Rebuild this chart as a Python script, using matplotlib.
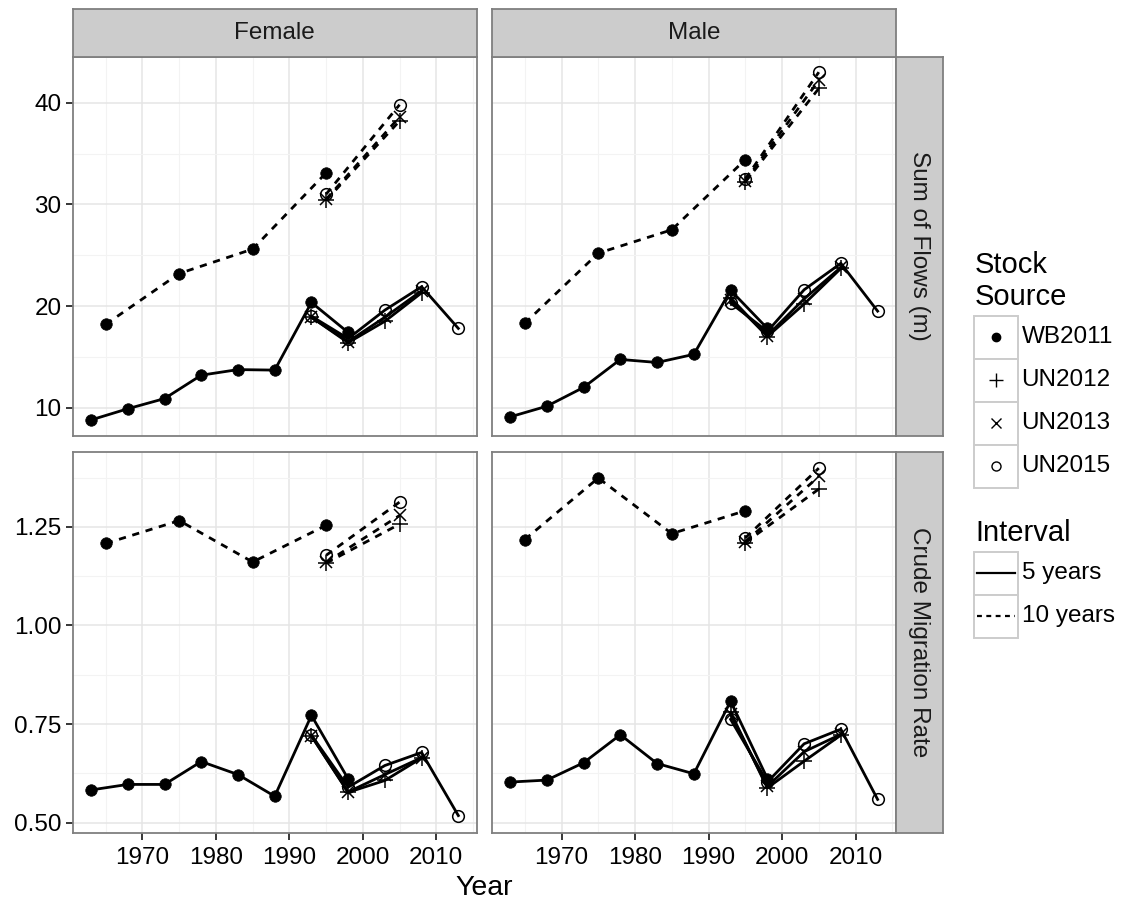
import matplotlib
matplotlib.use("Agg")
import matplotlib.pyplot as plt
from matplotlib.patches import Rectangle

plt.rcParams['font.family'] = ['Liberation Sans', 'DejaVu Sans']

# ---------------- data ----------------
panels_sex = ["Female", "Male"]
panels_measure = ["Sum of Flows (m)", "Crude Migration Rate"]
sources = ["WB2011", "UN2012", "UN2013", "UN2015"]
intervals = ["5 years", "10 years"]

wb_years_5 = [1963, 1968, 1973, 1978, 1983, 1988, 1993, 1998]
un_years_5 = [1993, 1998, 2003, 2008]
un15_years_5 = [1993, 1998, 2003, 2008, 2013]
wb_years_10 = [1965, 1975, 1985, 1995]
un_years_10 = [1995, 2005]

# Female, Sum of Flows
f_flow_wb5 = [8.8, 9.9, 10.9, 13.2, 13.75, 13.7, 20.35, 17.4]
f_flow_un12_5 = [18.9, 16.4, 18.5, 21.3]
f_flow_un13_5 = [18.9, 16.5, 18.9, 21.5]
f_flow_un15_5 = [19.0, 16.8, 19.6, 21.9, 17.8]
f_flow_wb10 = [18.2, 23.2, 25.6, 33.1]
f_flow_un12_10 = [30.4, 38.2]
f_flow_un13_10 = [30.5, 38.6]
f_flow_un15_10 = [31.0, 39.8]

# Male, Sum of Flows
m_flow_wb5 = [9.1, 10.15, 12.0, 14.75, 14.45, 15.25, 21.55, 17.8]
m_flow_un12_5 = [20.8, 17.0, 20.2, 23.7]
m_flow_un13_5 = [20.6, 17.1, 20.7, 23.8]
m_flow_un15_5 = [20.3, 17.5, 21.6, 24.2, 19.5]
m_flow_wb10 = [18.3, 25.2, 27.5, 34.4]
m_flow_un12_10 = [32.2, 41.4]
m_flow_un13_10 = [32.3, 42.2]
m_flow_un15_10 = [32.5, 43.0]

# Female, Crude Migration Rate
f_cmr_wb5 = [0.583, 0.597, 0.597, 0.655, 0.622, 0.567, 0.772, 0.611]
f_cmr_un12_5 = [0.72, 0.577, 0.607, 0.664]
f_cmr_un13_5 = [0.72, 0.578, 0.622, 0.665]
f_cmr_un15_5 = [0.722, 0.59, 0.645, 0.678, 0.518]
f_cmr_wb10 = [1.208, 1.266, 1.161, 1.254]
f_cmr_un12_10 = [1.158, 1.257]
f_cmr_un13_10 = [1.16, 1.279]
f_cmr_un15_10 = [1.178, 1.313]

# Male, Crude Migration Rate
m_cmr_wb5 = [0.603, 0.608, 0.652, 0.723, 0.650, 0.624, 0.808, 0.612]
m_cmr_un12_5 = [0.78, 0.588, 0.656, 0.722]
m_cmr_un13_5 = [0.775, 0.592, 0.68, 0.724]
m_cmr_un15_5 = [0.762, 0.603, 0.70, 0.737, 0.559]
m_cmr_wb10 = [1.218, 1.374, 1.233, 1.291]
m_cmr_un12_10 = [1.21, 1.346]
m_cmr_un13_10 = [1.212, 1.378]
m_cmr_un15_10 = [1.222, 1.399]

x_ticks = [1970, 1980, 1990, 2000, 2010]
flow_ticks = [10, 20, 30, 40]
cmr_ticks = [0.50, 0.75, 1.00, 1.25]
cmr_tick_labels = ["0.50", "0.75", "1.00", "1.25"]

# ---------------- styling ----------------
W, H = 1121, 899
fig = plt.figure(figsize=(W / 100, H / 100), dpi=100)

def rect(x0, y0, x1, y1):
    return [x0 / W, 1 - y1 / H, (x1 - x0) / W, (y1 - y0) / H]

marker_style = {
    "WB2011": dict(marker='o', markersize=8.3, markerfacecolor='black', markeredgecolor='black', markeredgewidth=0.5),
    "UN2012": dict(marker='+', markersize=11, markeredgecolor='black', markeredgewidth=1.1),
    "UN2013": dict(marker='x', markersize=8.3, markeredgecolor='black', markeredgewidth=1.1),
    "UN2015": dict(marker='o', markersize=8.4, markerfacecolor='none', markeredgecolor='black', markeredgewidth=1.1),
}
line_style = {
    "5 years": dict(linestyle='-', linewidth=2.0),
    "10 years": dict(linestyle=(0, (2.6, 2.4)), linewidth=2.0),
}

panel_data = {
    (0, 0): {
        ("WB2011", "5 years"): (wb_years_5, f_flow_wb5),
        ("UN2012", "5 years"): (un_years_5, f_flow_un12_5),
        ("UN2013", "5 years"): (un_years_5, f_flow_un13_5),
        ("UN2015", "5 years"): (un15_years_5, f_flow_un15_5),
        ("WB2011", "10 years"): (wb_years_10, f_flow_wb10),
        ("UN2012", "10 years"): (un_years_10, f_flow_un12_10),
        ("UN2013", "10 years"): (un_years_10, f_flow_un13_10),
        ("UN2015", "10 years"): (un_years_10, f_flow_un15_10),
    },
    (0, 1): {
        ("WB2011", "5 years"): (wb_years_5, m_flow_wb5),
        ("UN2012", "5 years"): (un_years_5, m_flow_un12_5),
        ("UN2013", "5 years"): (un_years_5, m_flow_un13_5),
        ("UN2015", "5 years"): (un15_years_5, m_flow_un15_5),
        ("WB2011", "10 years"): (wb_years_10, m_flow_wb10),
        ("UN2012", "10 years"): (un_years_10, m_flow_un12_10),
        ("UN2013", "10 years"): (un_years_10, m_flow_un13_10),
        ("UN2015", "10 years"): (un_years_10, m_flow_un15_10),
    },
    (1, 0): {
        ("WB2011", "5 years"): (wb_years_5, f_cmr_wb5),
        ("UN2012", "5 years"): (un_years_5, f_cmr_un12_5),
        ("UN2013", "5 years"): (un_years_5, f_cmr_un13_5),
        ("UN2015", "5 years"): (un15_years_5, f_cmr_un15_5),
        ("WB2011", "10 years"): (wb_years_10, f_cmr_wb10),
        ("UN2012", "10 years"): (un_years_10, f_cmr_un12_10),
        ("UN2013", "10 years"): (un_years_10, f_cmr_un13_10),
        ("UN2015", "10 years"): (un_years_10, f_cmr_un15_10),
    },
    (1, 1): {
        ("WB2011", "5 years"): (wb_years_5, m_cmr_wb5),
        ("UN2012", "5 years"): (un_years_5, m_cmr_un12_5),
        ("UN2013", "5 years"): (un_years_5, m_cmr_un13_5),
        ("UN2015", "5 years"): (un15_years_5, m_cmr_un15_5),
        ("WB2011", "10 years"): (wb_years_10, m_cmr_wb10),
        ("UN2012", "10 years"): (un_years_10, m_cmr_un12_10),
        ("UN2013", "10 years"): (un_years_10, m_cmr_un13_10),
        ("UN2015", "10 years"): (un_years_10, m_cmr_un15_10),
    },
}

col_x = [(72.7, 476.7), (491.7, 896.0)]
row_y = [(56.7, 436.0), (451.7, 832.7)]
ylims = [(7.22, 44.52), (0.4746, 1.4407)]
xlim = (1960.5, 2015.5)
border_col = '#7F7F7F'
strip_col = '#CCCCCC'
tick_fs = 17.5

for r in range(2):
    for c in range(2):
        x0, x1 = col_x[c]
        y0, y1 = row_y[r]
        ax = fig.add_axes(rect(x0, y0, x1, y1))
        ax.set_xlim(*xlim)
        ax.set_ylim(*ylims[r])
        ax.set_xticks(x_ticks)
        ax.set_xticks([1965, 1975, 1985, 1995, 2005, 2015], minor=True)
        if r == 0:
            ax.set_yticks(flow_ticks)
            ax.set_yticks([15, 25, 35], minor=True)
        else:
            ax.set_yticks(cmr_ticks)
            ax.set_yticks([0.625, 0.875, 1.125, 1.375], minor=True)
        ax.grid(which='major', color='#E5E5E5', linewidth=1.1)
        ax.grid(which='minor', color='#F3F3F3', linewidth=0.8)
        ax.set_axisbelow(True)
        ax.tick_params(which='minor', length=0)
        ax.tick_params(which='major', length=5, width=1.1, color='black',
                       labelsize=tick_fs, labelcolor='black', pad=3)
        ax.tick_params(axis='x', pad=5.5)
        if c == 0:
            if r == 1:
                ax.set_yticklabels(cmr_tick_labels)
        else:
            ax.tick_params(axis='y', labelleft=False, length=0)
        if r == 0:
            ax.tick_params(axis='x', labelbottom=False, length=0)
        for s in ax.spines.values():
            s.set_color(border_col)
            s.set_linewidth(1.3)
        data = panel_data[(r, c)]
        for (src, itv), (xs, ys) in data.items():
            ax.plot(xs, ys, color='black', **line_style[itv], zorder=3)
        for src in sources:
            for itv in intervals:
                xs, ys = data[(src, itv)]
                ax.plot(xs, ys, linestyle='none', zorder=4, **marker_style[src])

        if r == 0:
            sax = fig.add_axes(rect(x0, 8.5, x1, y0))
            sax.set_facecolor(strip_col)
            sax.set_xticks([]); sax.set_yticks([])
            for s in sax.spines.values():
                s.set_color(border_col); s.set_linewidth(1.3)
            sax.text(0.5, 0.5, panels_sex[c], ha='center', va='center',
                     fontsize=17.5, color='#1A1A1A', transform=sax.transAxes)
        if c == 1:
            sax = fig.add_axes(rect(x1, y0, 943.0, y1))
            sax.set_facecolor(strip_col)
            sax.set_xticks([]); sax.set_yticks([])
            for s in sax.spines.values():
                s.set_color(border_col); s.set_linewidth(1.3)
            sax.text(0.5, 0.5, panels_measure[r], ha='center', va='center',
                     rotation=-90, fontsize=17.5, color='#1A1A1A',
                     transform=sax.transAxes)

fig.text(484 / W, 1 - 895 / H, "Year", ha='center', va='baseline', fontsize=20.5, color='black')

# ---------------- legend (pixel coords overlay) ----------------
lax = fig.add_axes([0, 0, 1, 1])
lax.set_xlim(0, W)
lax.set_ylim(H, 0)
lax.axis('off')

key_x0, key_x1 = 973.5, 1017.5
key_h = 43.0
key_col = '#CCCCCC'

lax.text(975, 273, "Stock", ha='left', va='baseline', fontsize=21)
lax.text(975, 305, "Source", ha='left', va='baseline', fontsize=21)
top = 315.7
legend_marker = {
    "WB2011": dict(marker='o', markersize=6, markerfacecolor='black', markeredgecolor='black'),
    "UN2012": dict(marker='+', markersize=10, markeredgecolor='black', markeredgewidth=1.0),
    "UN2013": dict(marker='x', markersize=6.5, markeredgecolor='black', markeredgewidth=1.0),
    "UN2015": dict(marker='o', markersize=6.5, markerfacecolor='none', markeredgecolor='black', markeredgewidth=1.0),
}
for i, src in enumerate(sources):
    y0 = top + i * key_h
    lax.add_patch(Rectangle((key_x0, y0), key_x1 - key_x0, key_h, facecolor='white',
                            edgecolor=key_col, linewidth=1.4))
    lax.plot([(key_x0 + key_x1) / 2], [y0 + key_h / 2], linestyle='none', **legend_marker[src])
    lax.text(1021.5, y0 + key_h / 2, src, ha='left', va='center', fontsize=17.5)

lax.text(975, 541, "Interval", ha='left', va='baseline', fontsize=21)
top2 = 551.7
for i, itv in enumerate(intervals):
    y0 = top2 + i * key_h
    lax.add_patch(Rectangle((key_x0, y0), key_x1 - key_x0, key_h, facecolor='white',
                            edgecolor=key_col, linewidth=1.4))
    ls = '-' if itv == "5 years" else (0, (2.2, 2.0))
    lax.plot([key_x0 + 3, key_x1 - 3], [y0 + key_h / 2, y0 + key_h / 2], color='black',
             linestyle=ls, linewidth=1.6)
    lax.text(1021.5, y0 + key_h / 2, itv, ha='left', va='center', fontsize=17.5)

fig.savefig("out.png", dpi=100)
